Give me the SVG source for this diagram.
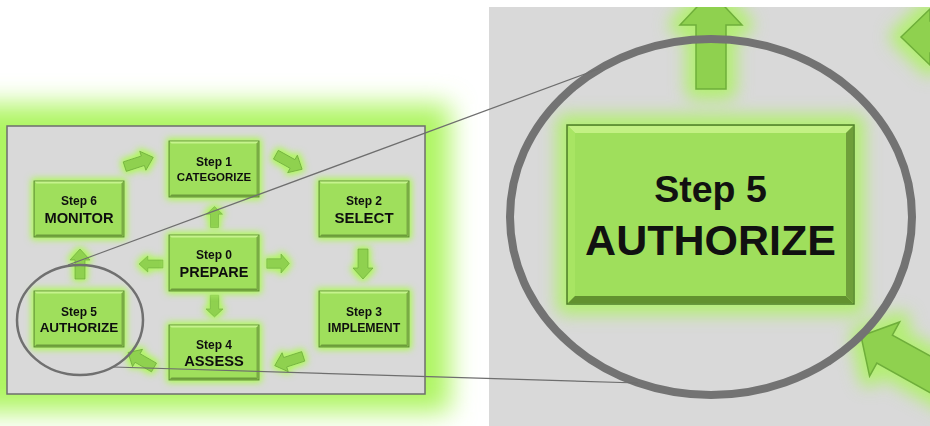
<svg xmlns="http://www.w3.org/2000/svg" xmlns:xlink="http://www.w3.org/1999/xlink" width="930" height="426" viewBox="0 0 930 426">
<style>
.box{fill:#9fdf5c;stroke:#4f7d29;stroke-width:1}
.bt{fill:#c6f38c}
.bb{fill:#6c9c3a}
.br{fill:#7aab44}
.arr{fill:#8fd14f;stroke:#6fae3b;stroke-width:0.8}
.t1{font-family:"Liberation Sans",Arial,sans-serif;font-weight:bold;fill:#111;text-anchor:middle}
.zl{fill:none;stroke:#6e6e6e;stroke-width:1.2}
.halo{fill:#b4ee74;stroke:#b4ee74;stroke-width:22;stroke-linejoin:round}
</style>
<defs>
<filter id="bgblur" x="-20%" y="-20%" width="140%" height="140%"><feGaussianBlur stdDeviation="13"/></filter>
<filter id="soft" x="-50%" y="-50%" width="200%" height="200%"><feGaussianBlur stdDeviation="8"/></filter>
<filter id="glow" x="-40%" y="-40%" width="180%" height="180%">
<feMorphology in="SourceAlpha" operator="dilate" radius="2" result="d"/>
<feGaussianBlur in="d" stdDeviation="3.5" result="b"/>
<feComponentTransfer in="b" result="b2"><feFuncA type="linear" slope="1.4"/></feComponentTransfer>
<feFlood flood-color="#b6f272"/>
<feComposite in2="b2" operator="in" result="g"/>
<feMerge><feMergeNode in="g"/><feMergeNode in="SourceGraphic"/></feMerge>
</filter>
<path id="arr" d="M-15,-5 L4,-5 L4,-10 L15,0 L4,10 L4,5 L-15,5 Z"/>
<path id="zUp" d="M711,-8 L742,25 L726,25 L726,89 L696,89 L696,25 L680,25 Z"/>
<path id="zLeft" d="M901,37 L930,9 L930,21 L990,21 L990,53 L930,53 L930,65 Z"/>
<path id="zDiag" d="M0,0 L-27,-31 L-27,-16 L-150,-16 L-150,16 L-27,16 L-27,31 Z"/>
<clipPath id="rp"><rect x="489" y="7" width="441" height="419"/></clipPath>
</defs>
<rect width="930" height="426" fill="#fff"/>
<!-- left panel -->
<rect x="-40" y="104" width="490" height="308" fill="#aef562" filter="url(#bgblur)"/>
<rect x="7" y="126" width="418" height="268" fill="#d9d9d9" stroke="#6e6e6e" stroke-width="1.5"/>
<g id="connectors" filter="url(#glow)">
<use xlink:href="#arr" class="arr" transform="translate(139,162) rotate(-18)"/>
<use xlink:href="#arr" class="arr" transform="translate(289,162) rotate(29)"/>
<use xlink:href="#arr" class="arr" transform="translate(363,264) rotate(90)"/>
<use xlink:href="#arr" class="arr" transform="translate(289,361) rotate(162)"/>
<use xlink:href="#arr" class="arr" transform="translate(141,360) rotate(210)"/>
<use xlink:href="#arr" class="arr" transform="translate(80,264) rotate(-90)"/>
<use xlink:href="#arr" class="arr" transform="translate(214.5,217) rotate(-90) scale(0.7,0.8)"/>
<use xlink:href="#arr" class="arr" transform="translate(151,264) rotate(180) scale(0.8,0.8)"/>
<use xlink:href="#arr" class="arr" transform="translate(278,263.5) scale(0.75,0.95)"/>
<use xlink:href="#arr" class="arr" transform="translate(214.5,306) rotate(90) scale(0.73,0.85)"/>
</g>
<g id="step1" filter="url(#glow)">
<rect class="box" x="169" y="141" width="90" height="56"/>
<path class="bt" d="M169.5,141.5 H258.5 L256.5,143.5 H171.5 Z"/>
<path class="bb" d="M169.5,196.5 L171.5,194.5 H256.5 L258.5,196.5 Z"/>
<path class="br" d="M258.5,141.5 V196.5 L256.5,194.5 V143.5 Z"/>
<text class="t1" x="214" y="166" font-size="12">Step 1</text>
<text class="t1" x="214" y="181" font-size="11.5">CATEGORIZE</text>
</g>
<g id="step6" filter="url(#glow)">
<rect class="box" x="34" y="181" width="90" height="56"/>
<path class="bt" d="M34.5,181.5 H123.5 L121.5,183.5 H36.5 Z"/>
<path class="bb" d="M34.5,236.5 L36.5,234.5 H121.5 L123.5,236.5 Z"/>
<path class="br" d="M123.5,181.5 V236.5 L121.5,234.5 V183.5 Z"/>
<text class="t1" x="79" y="204.5" font-size="12">Step 6</text>
<text class="t1" x="79" y="222.7" font-size="14.7">MONITOR</text>
</g>
<g id="step2" filter="url(#glow)">
<rect class="box" x="319" y="181" width="90" height="56"/>
<path class="bt" d="M319.5,181.5 H408.5 L406.5,183.5 H321.5 Z"/>
<path class="bb" d="M319.5,236.5 L321.5,234.5 H406.5 L408.5,236.5 Z"/>
<path class="br" d="M408.5,181.5 V236.5 L406.5,234.5 V183.5 Z"/>
<text class="t1" x="364" y="204.5" font-size="12">Step 2</text>
<text class="t1" x="364" y="222.7" font-size="15">SELECT</text>
</g>
<g id="step0" filter="url(#glow)">
<rect class="box" x="169" y="235" width="90" height="56"/>
<path class="bt" d="M169.5,235.5 H258.5 L256.5,237.5 H171.5 Z"/>
<path class="bb" d="M169.5,290.5 L171.5,288.5 H256.5 L258.5,290.5 Z"/>
<path class="br" d="M258.5,235.5 V290.5 L256.5,288.5 V237.5 Z"/>
<text class="t1" x="214" y="259" font-size="12">Step 0</text>
<text class="t1" x="214" y="276.7" font-size="14.5">PREPARE</text>
</g>
<g id="step5" filter="url(#glow)">
<rect class="box" x="34" y="291" width="90" height="56"/>
<path class="bt" d="M34.5,291.5 H123.5 L121.5,293.5 H36.5 Z"/>
<path class="bb" d="M34.5,346.5 L36.5,344.5 H121.5 L123.5,346.5 Z"/>
<path class="br" d="M123.5,291.5 V346.5 L121.5,344.5 V293.5 Z"/>
<text class="t1" x="79" y="315.5" font-size="12">Step 5</text>
<text class="t1" x="79" y="332" font-size="13.5">AUTHORIZE</text>
</g>
<g id="step3" filter="url(#glow)">
<rect class="box" x="319" y="291" width="90" height="56"/>
<path class="bt" d="M319.5,291.5 H408.5 L406.5,293.5 H321.5 Z"/>
<path class="bb" d="M319.5,346.5 L321.5,344.5 H406.5 L408.5,346.5 Z"/>
<path class="br" d="M408.5,291.5 V346.5 L406.5,344.5 V293.5 Z"/>
<text class="t1" x="364" y="316.3" font-size="12">Step 3</text>
<text class="t1" x="364" y="331.7" font-size="12.3">IMPLEMENT</text>
</g>
<g id="step4" filter="url(#glow)">
<rect class="box" x="169" y="325" width="90" height="55"/>
<path class="bt" d="M169.5,325.5 H258.5 L256.5,327.5 H171.5 Z"/>
<path class="bb" d="M169.5,379.5 L171.5,377.5 H256.5 L258.5,379.5 Z"/>
<path class="br" d="M258.5,325.5 V379.5 L256.5,377.5 V327.5 Z"/>
<text class="t1" x="214" y="349" font-size="12">Step 4</text>
<text class="t1" x="214" y="366" font-size="14.7">ASSESS</text>
</g>
<ellipse id="focus-small" cx="80" cy="320" rx="63" ry="55" fill="none" stroke="#707070" stroke-width="2.5"/>
<!-- right panel (zoomed view) -->
<g id="zoom-panel" clip-path="url(#rp)">
<rect x="489" y="7" width="441" height="419" fill="#d9d9d9"/>
<g id="zoom-halos" filter="url(#soft)">
<use xlink:href="#zUp" class="halo"/>
<use xlink:href="#zLeft" class="halo"/>
<use xlink:href="#zDiag" class="halo" transform="translate(861,336) rotate(209)"/>
<rect class="halo" x="567" y="125" width="287" height="179"/>
</g>
<g id="zoom-arrows">
<use xlink:href="#zUp" class="arr" style="stroke-width:1.5"/>
<use xlink:href="#zLeft" class="arr" style="stroke-width:1.5"/>
<use xlink:href="#zDiag" class="arr" style="stroke-width:1.5" transform="translate(861,336) rotate(209)"/>
</g>
<g id="step5-zoom">
<rect x="567" y="125" width="287" height="179" fill="#9fdf5c" stroke="#4f7d29" stroke-width="1.5"/>
<path d="M568,126 H853 L846,133 H575 Z" fill="#c3f184"/>
<path d="M568,126 L575,133 V296 L568,303 Z" fill="#a8e563"/>
<path d="M568,303 L575,296 H846 L853,303 Z" fill="#62912f"/>
<path d="M853,126 V303 L846,296 V133 Z" fill="#6f9f3a"/>
<text class="t1" x="710.5" y="202" font-size="37.5">Step 5</text>
<text class="t1" x="710.5" y="255" font-size="43">AUTHORIZE</text>
</g>
<ellipse id="focus-big" cx="711" cy="217" rx="201" ry="178" fill="none" stroke="#737373" stroke-width="8"/>
</g>
<g id="zoom-lines">
<line class="zl" x1="68" y1="265" x2="601" y2="68"/>
<line class="zl" x1="113" y1="367" x2="638" y2="383"/>
</g>
</svg>
